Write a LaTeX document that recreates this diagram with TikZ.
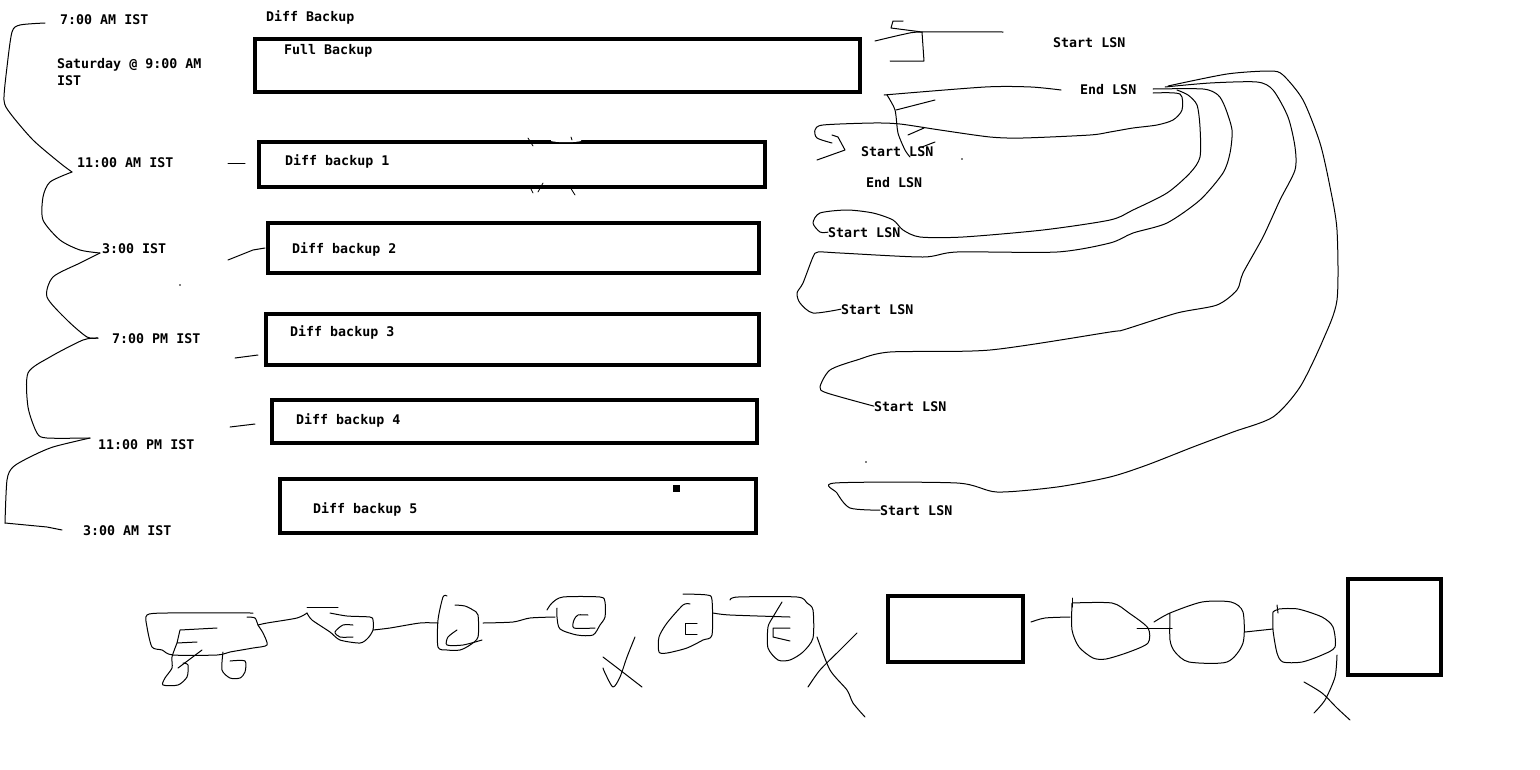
\documentclass[tikz,border=0pt]{standalone}
\usepackage{fontspec}
\newfontfamily\sketchfont{DejaVu Sans Mono}
\tikzset{
  lbl/.style={anchor=base west, inner sep=0pt, font=\sketchfont\bfseries\fontsize{13.3}{15}\selectfont},
  bkbox/.style={draw, line width=4pt, anchor=north west, inner sep=0pt, outer sep=0pt},
  scribble/.style={line width=1pt, line cap=round, line join=round},
  freehand/.style={scribble, smooth, tension=0.45},
}

\begin{document}
\begin{tikzpicture}[x=1pt,y=-1pt]
		\useasboundingbox (0,0) rectangle (1540,769);
		% backup boxes
		\foreach \Nm/\Xc/\Yc/\W/\H in
		{full/255/39/605/53, diffa/259/142/506/45, diffb/268/223/491/50,
		 diffc/266/314/493/51, diffd/272/400/485/43, diffe/280/479/476/54,
		 lowbox/888/596/135/66, lowsq/1348/579/93/96}
		{
			\node[bkbox, minimum width=\W pt, minimum height=\H pt] (\Nm) at (\Xc,\Yc) {};
		}
		\fill[black] (673,485) rectangle (680,492);
		% rubbed out bit of the first diff box
		\fill[white] (551,139) -- (551,141) .. controls (556,142.6) and (576,142.6) .. (581,141) -- (581,139) -- cycle;
		\draw[scribble, line width=0.8pt] (528,138) -- (533,146);
		\draw[scribble, line width=0.8pt] (571,137) -- (572,140);
		\draw[scribble, line width=0.8pt] (530,187) -- (533,193);
		\draw[scribble, line width=0.8pt] (543,183) -- (538,192);
		\draw[scribble, line width=0.8pt] (570,187) -- (575,195);
		% time labels and box labels
		\foreach \Nm/\Xc/\Yc/\Texto in
		{tA/60/24/7:00 AM IST, satA/57/68/Saturday @ 9:00 AM, satB/57/85/IST,
		 tB/77/167/11:00 AM IST, tC/102/253/3:00 IST, tD/112/343/7:00 PM IST,
		 tE/98/449/11:00 PM IST, tF/83/535/3:00 AM IST,
		 title/266/21/Diff Backup, fulltxt/284/54/Full Backup,
		 diffatxt/285/165/Diff backup 1, diffbtxt/292/253/Diff backup 2,
		 diffctxt/290/336/Diff backup 3, diffdtxt/296/424/Diff backup 4,
		 diffetxt/313/513/Diff backup 5}
		{
			\node[lbl] (\Nm) at (\Xc,\Yc) {\Texto};
		}
		% lsn labels
		\foreach \Nm/\Xc/\Yc/\Texto in
		{lsnS/1053/47/Start LSN, lsnE/1080/94/End LSN,
		 lsnSa/861/156/Start LSN, lsnEa/866/187/End LSN,
		 lsnSb/828/237/Start LSN, lsnSc/841/314/Start LSN,
		 lsnSd/874/411/Start LSN, lsnSe/880/515/Start LSN}
		{
			\node[lbl] (\Nm) at (\Xc,\Yc) {\Texto};
		}
		% time line on the left
		\draw[freehand] plot coordinates {(45,23) (20,25) (12,32) (7,67) (4,100) (10,113) (33,140) (60,163) (72,172)};
		\draw[freehand] plot coordinates {(72,172) (50,182) (43,197) (43,220) (60,240) (80,250) (100,253)};
		\draw[freehand] plot coordinates {(100,253) (80,263) (53,277) (47,297) (67,320) (87,337) (98,338)};
		\draw[freehand] plot coordinates {(98,338) (83,340) (50,357) (28,373) (28,407) (37,433) (47,438) (90,438)};
		\draw[freehand] plot coordinates {(90,438) (53,447) (30,457) (13,467) (7,480) (5,523)};
		\draw[scribble] (5,523) -- (47,527) -- (62,530);
		% ticks towards the boxes
		\draw[scribble] (228,163) -- (245,163);
		\draw[scribble] (228,260) -- (253,250) -- (265,248);
		\draw[scribble] (235,358) -- (258,355);
		\draw[scribble] (230,427) -- (255,424);
		% marks near full backup
		\draw[freehand] plot coordinates {(875,41) (905,34) (922,32) (1003,32)};
		\draw[scribble] (903,21) -- (893,21) -- (891,28) -- (922,32) -- (924,61) -- (890,61);
		\draw[freehand] plot coordinates {(884,95) (985,87) (1031,87) (1061,90)};
		\draw[freehand] plot coordinates {(887,95) (895,110) (898,133) (905,150) (910,157)};
		\draw[scribble] (896,110) -- (935,100);
		\draw[scribble] (908,135) -- (924,128);
		\draw[scribble] (922,147) -- (935,142);
		% end lsn to start lsn
		\draw[freehand] plot coordinates {(1153,93) (1180,94) (1182,110) (1173,120) (1157,125) (1133,128)
			(1110,132) (1090,135) (1023,138) (990,137) (940,130) (900,124) (873,123) (823,125)
			(815,130) (817,138) (832,143)};
		\draw[scribble] (832,135) -- (838,137) -- (845,150) -- (817,160);
		\draw[freehand] plot coordinates {(1177,90) (1188,95) (1197,105) (1200,127) (1200,157) (1190,173)
			(1167,193) (1133,210) (1110,220) (1043,230) (963,237) (920,237) (903,230) (893,220)
			(873,213) (847,210) (820,213) (813,223) (820,232) (lsnSb.west)};
		\draw[freehand] plot coordinates {(1153,89) (1203,89) (1218,95) (1225,107) (1232,130) (1230,153)
			(1223,173) (1200,200) (1167,223) (1133,233) (1110,243) (1057,252) (957,252) (923,257)
			(840,253) (818,252) (813,257) (803,283) (797,293) (800,303) (813,313) (lsnSc.west)};
		\draw[freehand] plot coordinates {(1165,87) (1210,83) (1257,82) (1273,90) (1288,117) (1295,147)
			(1295,170) (1280,200) (1263,237) (1243,273) (1237,290) (1217,305) (1177,313) (1123,330)
			(1110,332) (990,350) (890,352) (857,360) (830,370) (820,387) (827,393) (lsnSd.west)};
		\draw[freehand] plot coordinates {(1168,86) (1227,74) (1270,71) (1283,75) (1303,100) (1320,143)
			(1330,187) (1337,230) (1337,300) (1323,340) (1300,387) (1273,417) (1233,432)
			(1193,447) (1147,465) (1110,477) (1057,487) (997,492) (957,483) (835,483) (837,493)
			(850,508) (lsnSe.west)};
		% dots
		\foreach \Xc/\Yc in {180/285, 866/462, 962/159}
		{
			\fill (\Xc,\Yc) circle (0.9);
		}
		% chain sketched at the bottom
		\draw[freehand] plot coordinates {(253,613) (167,613) (147,615) (147,627) (152,647) (162,650)
			(173,655) (217,655) (230,652) (253,648) (267,645) (263,633) (258,625) (255,618) (247,617)};
		\draw[scribble] (217,628) -- (180,630) -- (177,643) -- (197,642);
		\draw[freehand] plot coordinates {(177,643) (172,657) (172,668) (165,678) (163,685) (178,685)
			(187,677) (188,665) (183,663)};
		\draw[scribble] (202,650) -- (178,668);
		\draw[freehand] plot coordinates {(223,652) (222,670) (230,678) (240,678) (245,672) (245,661) (230,661)};
		\draw[freehand] plot coordinates {(258,625) (267,623) (297,618) (307,613)};
		\draw[scribble] (307,607) -- (338,607);
		\draw[freehand] plot coordinates {(307,613) (312,620) (330,632) (340,640) (360,643) (368,638)
			(373,630) (373,620) (370,617) (347,616) (330,613)};
		\draw[freehand] plot coordinates {(353,625) (343,625) (335,632) (340,637) (353,637)};
		\draw[freehand] plot coordinates {(373,630) (390,628) (420,623) (438,623)};
		\draw[freehand] plot coordinates {(447,596) (443,597) (438,620) (438,647) (447,650) (460,650)
			(470,645) (478,637) (478,615) (473,610) (465,606) (455,605)};
		\draw[freehand] plot coordinates {(457,630) (448,637) (447,645) (463,645) (482,640)};
		\draw[freehand] plot coordinates {(483,623) (513,622) (530,618) (555,617)};
		\draw[freehand] plot coordinates {(547,610) (552,603) (563,597) (600,597) (605,602) (605,617)
			(600,625) (593,635) (577,635) (560,629) (557,617) (557,608)};
		\draw[freehand] plot coordinates {(588,615) (578,615) (574,620) (574,628) (595,628)};
		\draw[freehand] plot coordinates {(635,637) (627,657) (620,677) (613,687) (605,673) (603,668)};
		\draw[freehand] plot coordinates {(603,657) (620,670) (642,687)};
		\draw[freehand] plot coordinates {(683,594) (707,595) (712,600) (712,635) (703,640) (687,648)
			(667,653) (659,652) (659,637) (667,623) (683,605) (690,604)};
		\draw[scribble] (697,623) -- (685,623) -- (685,634) -- (697,634);
		\draw[freehand] plot coordinates {(713,613) (730,615) (790,617)};
		\draw[freehand] plot coordinates {(730,600) (738,597) (797,597) (807,603) (813,610) (813,638)
			(803,652) (790,660) (778,660) (768,648) (768,627) (773,617) (782,602)};
		\draw[scribble] (790,628) -- (773,628) -- (773,637) -- (790,641);
		\draw[freehand] plot coordinates {(857,633) (840,650) (820,670) (808,687)};
		\draw[freehand] plot coordinates {(817,637) (830,670) (847,690) (853,703) (865,717)};
		% links after the lower box
		\draw[freehand] plot coordinates {([xshift=8pt, yshift=7pt]lowbox.east) (1045,618) (1070,617)};
		\draw[freehand] plot coordinates {(1072,603) (1112,603) (1129,613) (1148,628) (1148,643) (1129,652)
			(1106,659) (1093,658) (1079,647) (1072,630) (1072,603)};
		\draw[scribble] (1072,598) -- (1072,607);
		\draw[scribble] (1137,628) -- (1172,628);
		\draw[freehand] plot coordinates {(1154,622) (1170,613) (1202,602) (1231,602) (1243,612) (1243,643)
			(1227,662) (1189,662) (1175,652) (1170,640) (1170,613)};
		\draw[scribble] (1245,632) -- (1273,629);
		\draw[freehand] plot coordinates {(1273,612) (1279,609) (1298,609) (1322,617) (1333,627) (1335,647)
			(1322,655) (1302,662) (1283,662) (1277,653) (1273,630) (1273,612)};
		\draw[scribble] (1277,605) -- (1278,613);
		\draw[freehand] plot coordinates {(1337,655) (1335,677) (1325,700) (1314,713)};
		\draw[freehand] plot coordinates {(1304,682) (1322,693) (1337,708) (1350,720)};
\end{tikzpicture}
\end{document}
